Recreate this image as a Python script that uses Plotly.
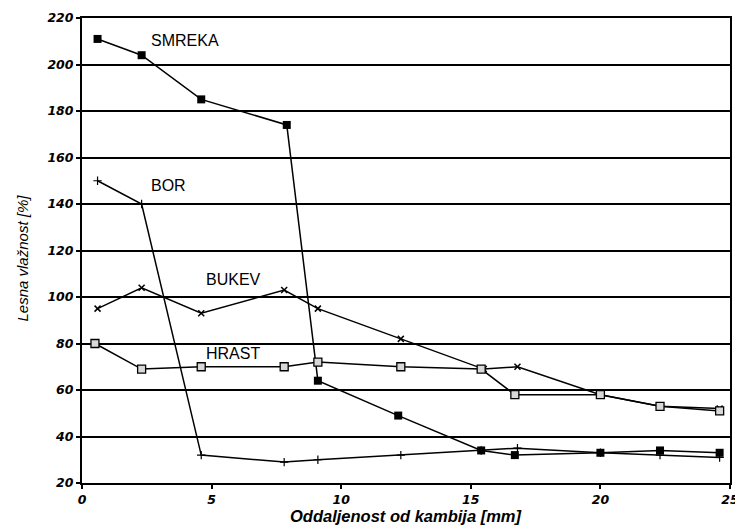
import plotly.graph_objects as go

smreka_x = [0.6, 2.3, 4.6, 7.9, 9.1, 12.2, 15.4, 16.7, 20.0, 22.3, 24.6]
smreka_y = [211, 204, 185, 174, 64, 49, 34, 32, 33, 34, 33]

bor_x = [0.6, 2.3, 4.6, 7.8, 9.1, 12.3, 15.4, 16.8, 20.0, 22.3, 24.6]
bor_y = [150, 140, 32, 29, 30, 32, 34, 35, 33, 32, 31]

bukev_x = [0.6, 2.3, 4.6, 7.8, 9.1, 12.3, 15.5, 16.8, 20.0, 22.3, 24.6]
bukev_y = [95, 104, 93, 103, 95, 82, 69, 70, 58, 53, 52]

hrast_x = [0.5, 2.3, 4.6, 7.8, 9.1, 12.3, 15.4, 16.7, 20.0, 22.3, 24.6]
hrast_y = [80, 69, 70, 70, 72, 70, 69, 58, 58, 53, 51]

labels = ["SMREKA", "BOR", "BUKEV", "HRAST"]
label_x = [2.65, 2.65, 4.8, 4.78]
label_y = [210.5, 148, 107.7, 75.5]

x_ticks = [0, 5, 10, 15, 20, 25]
y_ticks = [20, 40, 60, 80, 100, 120, 140, 160, 180, 200, 220]

FONT = "Liberation Sans, Arial"
TICKFONT = dict(family="DejaVu Sans", size=12.5, style="italic", weight="bold", color="black")

fig = go.Figure()
line = dict(color="black", width=1.5)
fig.add_trace(go.Scatter(x=smreka_x, y=smreka_y, mode="lines+markers", line=line,
                         marker=dict(symbol="square", size=8, color="black")))
fig.add_trace(go.Scatter(x=bor_x, y=bor_y, mode="lines+markers", line=line,
                         marker=dict(symbol="cross-thin-open", size=6, color="black",
                                     line=dict(color="black", width=1.2))))
fig.add_trace(go.Scatter(x=bukev_x, y=bukev_y, mode="lines+markers", line=line,
                         marker=dict(symbol="x-thin-open", size=6, color="black",
                                     line=dict(color="black", width=1.5))))
fig.add_trace(go.Scatter(x=hrast_x, y=hrast_y, mode="lines+markers", line=line,
                         marker=dict(symbol="square", size=8, color="#d8d8d8",
                                     line=dict(color="black", width=1.3))))

for t, xx, yy in zip(labels, label_x, label_y):
    fig.add_annotation(x=xx, y=yy, text=t, showarrow=False, xanchor="left", yanchor="middle",
                       xshift=-2, font=dict(family=FONT, size=16, color="black"))

# axis titles as paper annotations
fig.add_annotation(xref="paper", yref="paper", x=0.5, y=0, yshift=-33, yanchor="middle",
                   text="Oddaljenost od kambija [mm]", showarrow=False,
                   font=dict(family=FONT, size=16.5, style="italic", weight="bold", color="black"))
fig.add_annotation(xref="paper", yref="paper", x=0, xshift=-60, y=0.5, yshift=-8,
                   xanchor="center", yanchor="middle", textangle=-90,
                   text="Lesna vlažnost [%]", showarrow=False,
                   font=dict(family=FONT, size=15, style="italic", color="black"))

fig.update_layout(
    width=735, height=523,
    margin=dict(l=74, r=13, t=10, b=48, autoexpand=False),
    paper_bgcolor="white", plot_bgcolor="white",
    showlegend=False,
    font=dict(family=FONT, color="black"),
)
fig.update_xaxes(
    range=[0, 25], tickvals=x_ticks, ticks="outside", ticklen=4, tickwidth=1.5, tickcolor="black",
    showline=True, linecolor="black", linewidth=2, mirror=True, showgrid=False, zeroline=False,
    automargin=False, tickfont=TICKFONT,
)
fig.update_yaxes(
    range=[20, 220], tickvals=y_ticks, ticks="outside", ticklen=4, tickwidth=1.5, tickcolor="black",
    showline=True, linecolor="black", linewidth=2, mirror=True, automargin=False,
    showgrid=True, gridcolor="black", gridwidth=1.5, zeroline=False, tickfont=TICKFONT,
)

fig.write_html("out.html")
